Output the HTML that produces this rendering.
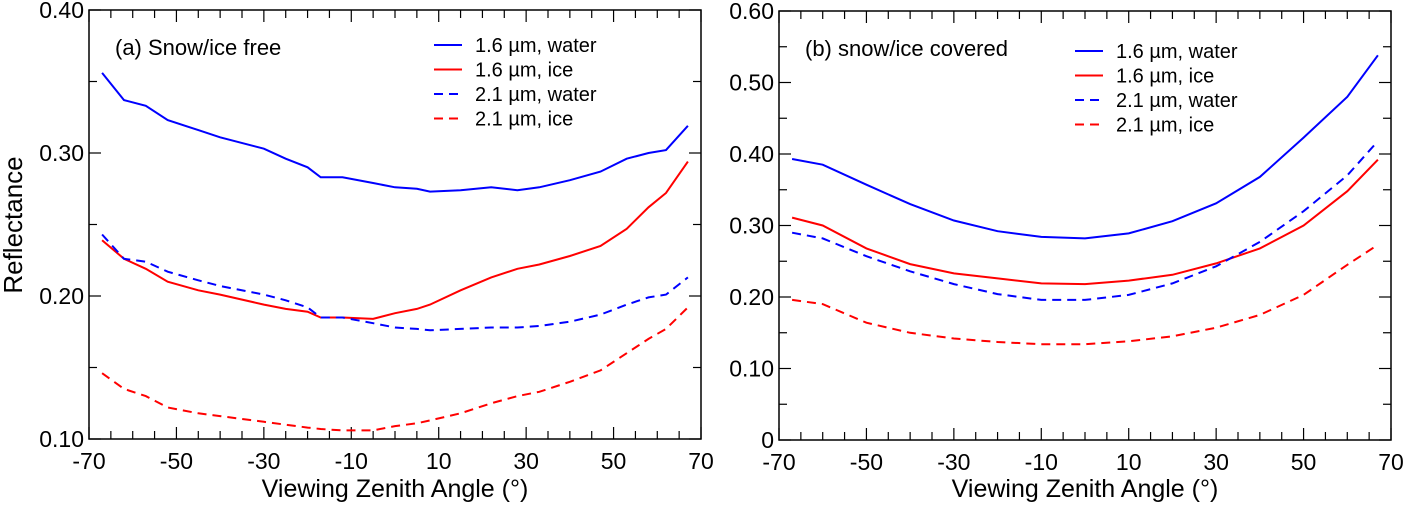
<!DOCTYPE html>
<html><head><meta charset="utf-8"><style>
html,body{margin:0;padding:0;background:#fff}
svg{display:block;font-family:"Liberation Sans",Arial,sans-serif}
</style></head><body>
<svg id="c" width="1408" height="509" viewBox="0 0 1408 509"></svg>
<script>
const xVals=[-67,-62,-57,-52,-45,-40,-30,-25,-20,-17,-12,-5,0,5,8,15,22,28,33,40,47,53,58,62,67];
const aBlueSolid=[0.356,0.337,0.333,0.323,0.316,0.311,0.303,0.296,0.290,0.283,0.283,0.279,0.276,0.275,0.273,0.274,0.276,0.274,0.276,0.281,0.287,0.296,0.300,0.302,0.319];
const aRedSolid=[0.239,0.226,0.219,0.210,0.204,0.201,0.194,0.191,0.189,0.185,0.185,0.184,0.188,0.191,0.194,0.204,0.213,0.219,0.222,0.228,0.235,0.247,0.262,0.272,0.294];
const aBlueDash=[0.243,0.226,0.224,0.217,0.211,0.207,0.201,0.197,0.192,0.185,0.185,0.181,0.178,0.177,0.176,0.177,0.178,0.178,0.179,0.182,0.187,0.194,0.199,0.201,0.213];
const aRedDash=[0.146,0.135,0.130,0.122,0.118,0.116,0.112,0.110,0.108,0.107,0.106,0.106,0.109,0.111,0.113,0.118,0.125,0.130,0.133,0.140,0.148,0.160,0.170,0.177,0.192];
const bX=[-67,-60,-50,-40,-30,-20,-10,0,10,20,30,40,50,60,67];
const bBlueSolid=[0.393,0.385,0.357,0.330,0.307,0.292,0.284,0.282,0.289,0.306,0.331,0.368,0.423,0.480,0.538];
const bRedSolid=[0.311,0.300,0.268,0.246,0.233,0.226,0.219,0.218,0.223,0.231,0.247,0.268,0.300,0.348,0.392];
const bBlueDash=[0.290,0.282,0.257,0.236,0.218,0.204,0.196,0.196,0.203,0.219,0.243,0.277,0.320,0.370,0.418];
const bRedDash=[0.196,0.190,0.164,0.150,0.142,0.137,0.134,0.134,0.138,0.145,0.157,0.175,0.203,0.245,0.273];
const xTicks=[-70,-50,-30,-10,10,30,50,70];
const aYTicks=["0.10","0.20","0.30","0.40"];
const bYTicks=["0","0.10","0.20","0.30","0.40","0.50","0.60"];
const legendLabels=["1.6 µm, water","1.6 µm, ice","2.1 µm, water","2.1 µm, ice"];

const NS="http://www.w3.org/2000/svg";
const svg=document.getElementById('c');
function mk(t,a,p){const e=document.createElementNS(NS,t);for(const k in a)e.setAttribute(k,a[k]);(p||svg).appendChild(e);return e;}

function panel(id,L,R,T,B,ymin,ymax,yTicks,title,series,legX,legY){
  const g=mk('g',{});
  
  
  const sx=x=>L+(x+70)*(R-L)/140;
  const sy=v=>B-(v-ymin)*(B-T)/(ymax-ymin);
  mk('rect',{x:L,y:T,width:R-L,height:B-T,fill:'none',stroke:'#000','stroke-width':1.5},g);
  for(let x=-70;x<=70;x+=5){
    const len=(x%10===0&&((x+70)%20===0))?12:8;
    mk('line',{x1:sx(x),x2:sx(x),y1:B,y2:B-len,stroke:'#000','stroke-width':1.2},g);
    mk('line',{x1:sx(x),x2:sx(x),y1:T,y2:T+len,stroke:'#000','stroke-width':1.2},g);
  }
  for(let i=0;i<=Math.round((ymax-ymin)/0.05);i++){
    const v=ymin+i*0.05, len=i%2===0?12:8;
    mk('line',{x1:L,x2:L+len,y1:sy(v),y2:sy(v),stroke:'#000','stroke-width':1.2},g);
    mk('line',{x1:R,x2:R-len,y1:sy(v),y2:sy(v),stroke:'#000','stroke-width':1.2},g);
  }
  xTicks.forEach(x=>{const t=mk('text',{x:sx(x),y:B+30,'text-anchor':'middle','font-size':23},g);t.textContent=x;
    });
  yTicks.forEach(s=>{const t=mk('text',{x:L-5,y:sy(parseFloat(s))+8,'text-anchor':'end','font-size':23},g);t.textContent=s;
    });
  const xt=mk('text',{x:(L+R)/2,y:497,'text-anchor':'middle','font-size':25},g);xt.textContent='Viewing Zenith Angle (°)';
  
  const pt=mk('text',{x:L+26,y:T+45,'font-size':22},g);pt.textContent=title;
  
  series.forEach((s,i)=>{
    const d=s.y.map((v,j)=>(j?'L':'M')+sx(s.x[j]).toFixed(1)+','+sy(v).toFixed(1)).join('');
    const p=mk('path',{d:d,fill:'none',stroke:s.c,'stroke-width':2,'stroke-dasharray':s.dash?'9,6':'none'},g);
    
    const ly=legY+i*24.5;
    const ll=mk('line',{x1:legX,x2:legX+28,y1:ly,y2:ly,stroke:s.c,'stroke-width':2,'stroke-dasharray':s.dash?'9,6':'none'},g);
    
    const lt=mk('text',{x:legX+41,y:ly+7,'font-size':20},g);lt.textContent=legendLabels[i];
    
  });
}
panel('panel-a',89,701,10,439,0.1,0.4,aYTicks,'(a) Snow/ice free',[
 {x:xVals,y:aBlueSolid,c:'#0000ff'},{x:xVals,y:aRedSolid,c:'#ff0000'},
 {x:xVals,y:aBlueDash,c:'#0000ff',dash:1},{x:xVals,y:aRedDash,c:'#ff0000',dash:1}],434,45);
panel('panel-b',779,1391,11,440,0,0.6,bYTicks,'(b) snow/ice covered',[
 {x:bX,y:bBlueSolid,c:'#0000ff'},{x:bX,y:bRedSolid,c:'#ff0000'},
 {x:bX,y:bBlueDash,c:'#0000ff',dash:1},{x:bX,y:bRedDash,c:'#ff0000',dash:1}],1075,51);
const yl=mk('text',{x:0,y:0,'text-anchor':'middle','font-size':26,transform:'translate(22,225) rotate(-90)'});
yl.textContent='Reflectance';


</script>
</body></html>
